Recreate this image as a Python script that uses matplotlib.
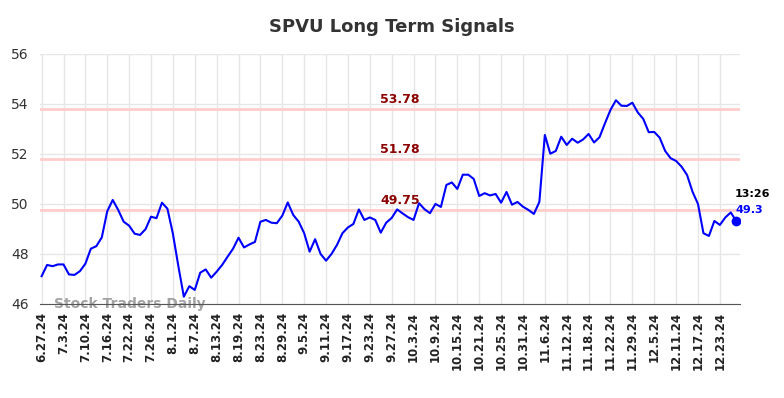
"""
SPVU long term signals chart - price line with three signal levels
"""
import matplotlib
matplotlib.use("Agg")
import matplotlib.pyplot as plt
import numpy as np

# ============= DATA =============
prices = [
    47.10, 47.55, 47.50, 47.57, 47.57, 47.17, 47.15, 47.30, 47.60, 48.20,
    48.30, 48.65, 49.70, 50.15, 49.75, 49.28, 49.12, 48.80, 48.75, 48.98,
    49.48, 49.42, 50.04, 49.80, 48.80, 47.50, 46.28, 46.70, 46.55, 47.24,
    47.37, 47.04, 47.28, 47.55, 47.88, 48.20, 48.64, 48.25, 48.37, 48.47,
    49.28, 49.35, 49.24, 49.22, 49.52, 50.05, 49.55, 49.28, 48.82, 48.08,
    48.58, 47.99, 47.72, 47.99, 48.35, 48.82, 49.05, 49.19, 49.77, 49.35,
    49.45, 49.35, 48.84, 49.24, 49.43, 49.77, 49.61, 49.46, 49.35, 50.02,
    49.78, 49.62, 49.99, 49.87, 50.75, 50.85, 50.59, 51.16, 51.16, 50.99,
    50.31, 50.42, 50.33, 50.39, 50.04, 50.47, 49.96, 50.07, 49.88, 49.75,
    49.59, 50.07, 52.75, 52.00, 52.11, 52.68, 52.35, 52.60, 52.44, 52.57,
    52.79, 52.45, 52.66, 53.22, 53.75, 54.14, 53.92, 53.91, 54.04, 53.65,
    53.39, 52.86, 52.87, 52.64, 52.11, 51.82, 51.71, 51.48, 51.15, 50.48,
    49.99, 48.82, 48.71, 49.31, 49.15, 49.45, 49.65, 49.30,
]

tick_labels = [
    "6.27.24", "7.3.24", "7.10.24", "7.16.24", "7.22.24", "7.26.24", "8.1.24",
    "8.7.24", "8.13.24", "8.19.24", "8.23.24", "8.29.24", "9.5.24", "9.11.24",
    "9.17.24", "9.23.24", "9.27.24", "10.3.24", "10.9.24", "10.15.24",
    "10.21.24", "10.25.24", "10.31.24", "11.6.24", "11.12.24", "11.18.24",
    "11.22.24", "11.29.24", "12.5.24", "12.11.24", "12.17.24", "12.23.24",
]
tick_step = 4  # one label every 4 trading days

signal_levels = [53.78, 51.78, 49.75]
last_time = "13:26"

# ============= PLOT =============
fig = plt.figure(figsize=(7.84, 3.98), dpi=100)
ax = fig.add_axes([0.051, 0.237, 0.893, 0.628])

x = np.arange(len(prices))
ax.plot(x, prices, color="#0000ff", linewidth=1.5, zorder=3)

# signal levels
for level in signal_levels:
    ax.axhline(level, color="#ffcccc", linewidth=2, zorder=2)
    ax.text(65.5, level + 0.12, f"{level:.2f}", color="#8b0000", fontsize=9,
            fontweight="bold", ha="center", va="bottom", zorder=4)

# last point marker + labels
last_x = x[-1]
ax.plot(last_x, prices[-1], "o", color="#0000ff", markersize=6, zorder=5)
ax.text(last_x - 0.2, prices[-1] + 0.9, last_time, color="black", fontsize=8,
        fontweight="bold", ha="left", va="bottom")
ax.text(last_x - 0.2, prices[-1] + 0.25, f"{prices[-1]:g}", color="#0000ff",
        fontsize=8, fontweight="bold", ha="left", va="bottom")

# watermark
ax.text(2.3, 46.0, "Stock Traders Daily", color="#999999", fontsize=10,
        fontweight="bold", ha="left", va="center", alpha=0.9, zorder=1)

ax.set_xlim(-0.3, 127.7)
ax.set_ylim(46, 56)
ax.set_yticks([46, 48, 50, 52, 54, 56])
ticks = np.arange(0, len(tick_labels) * tick_step, tick_step)
ax.set_xticks(ticks)
ax.set_xticklabels(tick_labels, rotation=90, fontsize=8.5, color="#222222",
                   fontweight="bold")
ax.tick_params(axis="y", labelsize=10, colors="#333333", length=0, pad=8)
ax.tick_params(axis="x", length=0, pad=6)

ax.grid(True, color="#e6e6e6", linewidth=1, zorder=0)
ax.set_axisbelow(True)
for side in ["left", "right", "top"]:
    ax.spines[side].set_visible(False)
ax.spines["bottom"].set_color("#555555")

fig.suptitle("SPVU Long Term Signals", fontsize=13, fontweight="bold",
             color="#333333", y=0.955)

fig.savefig("out.png", dpi=100)
